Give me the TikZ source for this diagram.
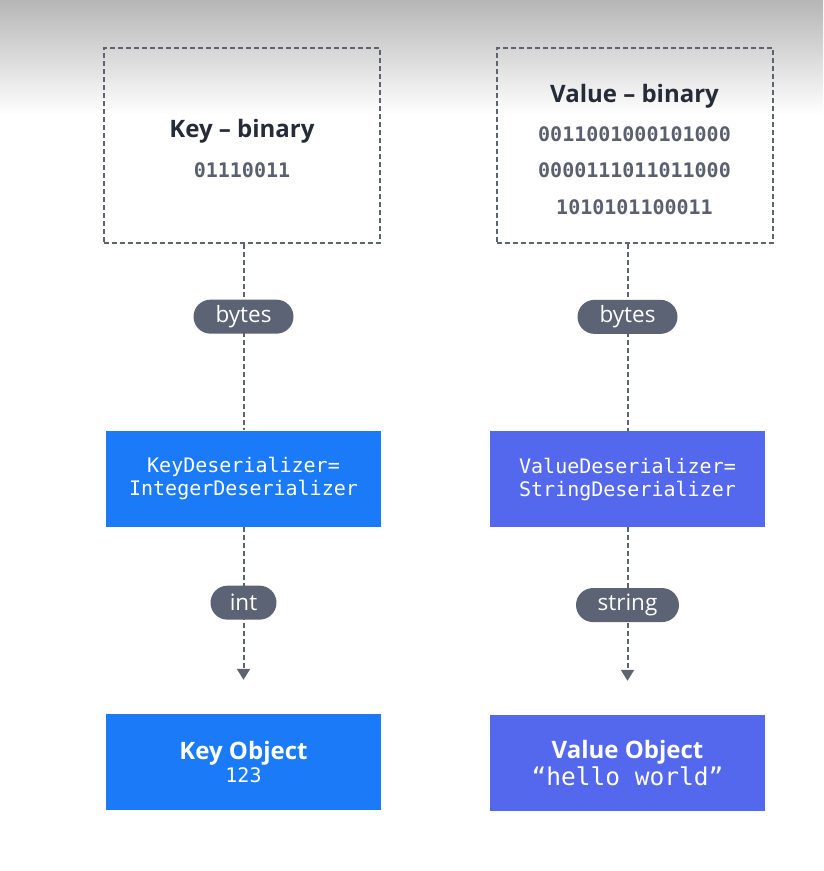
\documentclass[tikz,border=0pt]{standalone}
\usepackage{fontspec}
\setmainfont{Open Sans}
\setmonofont{DejaVu Sans Mono}
\usetikzlibrary{arrows.meta}
\definecolor{dashc}{HTML}{5F636E}
\definecolor{pillc}{HTML}{5B6374}
\definecolor{keyc}{HTML}{1A7AF8}
\definecolor{valc}{HTML}{5468EE}
\definecolor{titc}{HTML}{252B37}
\definecolor{binc}{HTML}{5A606E}
\tikzset{
  binbox/.style={draw=dashc, line width=2pt, dash pattern=on 5pt off 3pt, minimum width=276pt, minimum height=195pt, inner sep=0pt},
  solidbox/.style={minimum width=275pt, minimum height=96pt, inner sep=0pt, text=white, align=center},
  pill/.style={fill=pillc, text=white, rounded corners=17pt, minimum height=34pt, inner sep=0pt, font=\fontsize{22.5pt}{24pt}\selectfont},
  conn/.style={draw=dashc, line width=2pt, dash pattern=on 5pt off 3pt},
  title/.style={font=\fontsize{24pt}{28pt}\selectfont\bfseries, text=titc},
  bin/.style={font=\fontsize{20pt}{24pt}\selectfont\ttfamily\bfseries, text=binc},
  tip/.style={-{Triangle[width=13pt,length=11pt]}, shorten >=34pt}
}
\begin{document}
\begin{tikzpicture}[x=1pt,y=-1pt]
\useasboundingbox (0,0) rectangle (823,871);
\shade[top color={rgb,255:red,182;green,182;blue,182}, bottom color=white] (0,0) rectangle (823,115);
% binary boxes
\node[binbox] (kb) at (242,145.5) {};
\node[binbox] (vb) at (634.5,145.5) {};
\node[title] (kbt) at (242,131) {Key – binary};
\node[bin] (kbn) at (242,170) {01110011};
\node[title] (vbt) at (634.5,96) {Value – binary};
\node[bin] (vb1) at (634.5,134) {0011001000101000};
\node[bin] (vb2) at (634.5,170) {0000111011011000};
\node[bin] (vb3) at (634.5,207) {1010101100011};
% deserializers
\node[solidbox, fill=keyc, font=\fontsize{20pt}{23pt}\selectfont\ttfamily] (kd) at (243.5,478.5) {KeyDeserializer=\\IntegerDeserializer};
\node[solidbox, fill=valc, font=\fontsize{20pt}{23pt}\selectfont\ttfamily] (vd) at (627.5,479) {ValueDeserializer=\\StringDeserializer};
% objects
\node[solidbox, fill=keyc] (ko) at (243.5,762) {{\fontsize{24pt}{26pt}\selectfont\bfseries Key Object}\\[2pt]{\fontsize{20pt}{22pt}\selectfont\ttfamily 123}};
\node[solidbox, fill=valc] (vo) at (627.5,763) {{\fontsize{24pt}{26pt}\selectfont\bfseries Value Object}\\[1pt]{\fontsize{24.5pt}{25pt}\selectfont\ttfamily “hello world”}};
% connectors
\draw[conn] (kb.south -| kd.north) -- node[pill, pos=0.39, minimum width=100pt] (p1) {bytes} (kd.north);
\draw[conn] (vb.south -| vd.north) -- node[pill, pos=0.39, minimum width=100pt] (p2) {bytes} (vd.north);
\draw[conn, tip] (kd.south) -- node[pill, pos=0.406, minimum width=66pt] (p3) {int} (ko.north);
\draw[conn, tip] (vd.south) -- node[pill, pos=0.415, minimum width=103pt] (p4) {string} (vo.north);
\end{tikzpicture}
\end{document}
